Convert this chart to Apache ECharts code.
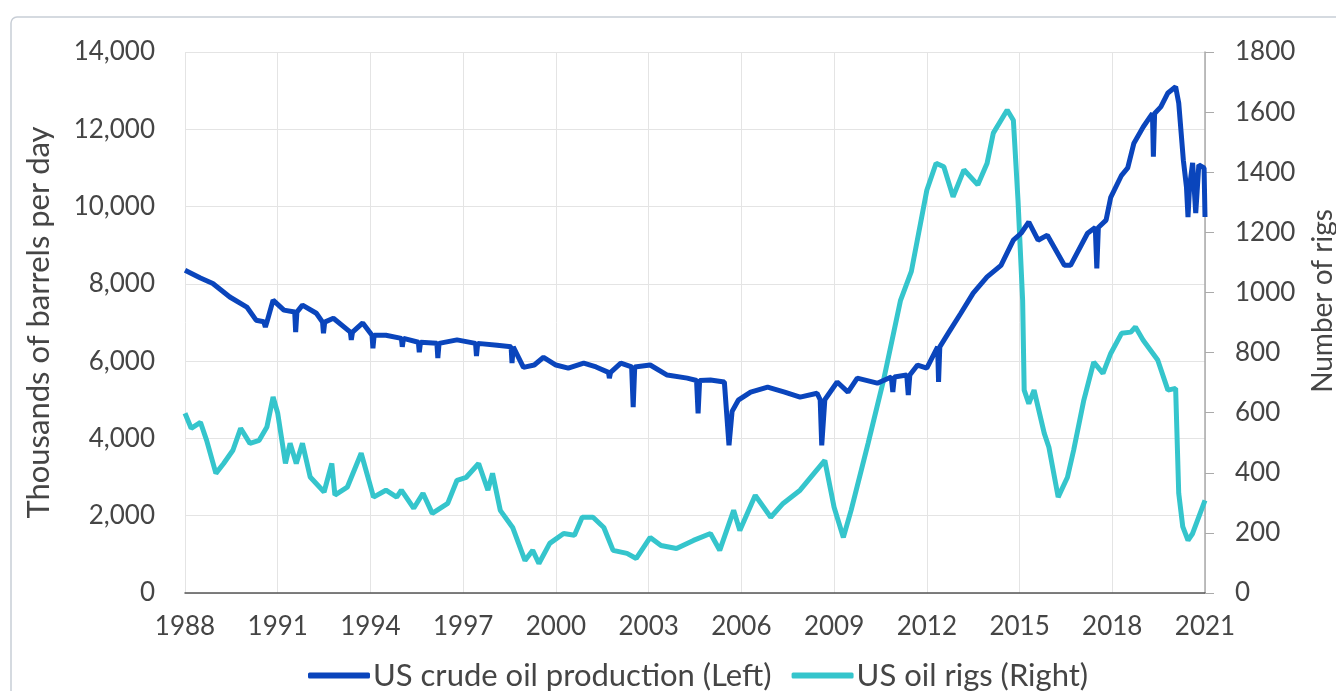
<!DOCTYPE html>
<html>
<head>
<meta charset="utf-8">
<script src="https://cdn.jsdelivr.net/npm/echarts@6/dist/echarts.min.js"></script>
<style>
html,body{margin:0;padding:0;background:#fff;}
#chart{width:1336px;height:691px;}
</style>
</head>
<body>
<div id="chart"></div>
<script>
// US crude oil production (thousands of barrels per day) — left axis
const prodYears = [1988.0,1988.5,1988.9,1989.45,1990.0,1990.3,1990.55,1990.6,1990.65,1990.85,1991.2,1991.55,1991.58,1991.62,1991.8,1992.25,1992.45,1992.48,1992.52,1992.8,1993.35,1993.38,1993.42,1993.75,1994.05,1994.08,1994.12,1994.5,1995.0,1995.03,1995.07,1995.55,1995.58,1995.62,1996.15,1996.18,1996.22,1996.8,1997.4,1997.43,1997.47,1998.1,1998.55,1998.58,1998.62,1998.95,1999.3,1999.6,2000.0,2000.4,2000.9,2001.3,2001.7,2001.73,2001.77,2002.1,2002.45,2002.5,2002.55,2003.05,2003.6,2004.25,2004.55,2004.6,2004.65,2005.0,2005.45,2005.6,2005.7,2005.9,2006.3,2006.85,2007.4,2007.9,2008.45,2008.55,2008.6,2008.7,2009.1,2009.45,2009.75,2010.4,2010.85,2010.9,2010.95,2011.35,2011.4,2011.45,2011.7,2012.0,2012.35,2012.38,2012.42,2012.7,2013.1,2013.5,2013.95,2014.4,2014.8,2015.05,2015.3,2015.6,2015.9,2016.45,2016.65,2017.2,2017.45,2017.5,2017.55,2017.8,2017.95,2018.3,2018.5,2018.7,2019.0,2019.3,2019.33,2019.37,2019.57,2019.8,2020.05,2020.15,2020.3,2020.4,2020.45,2020.5,2020.6,2020.7,2020.8,2020.97,2021.0];
const prodValues = [8350,8150,8010,7660,7400,7060,7020,6880,7010,7580,7320,7270,6750,7270,7450,7240,7010,6720,7010,7110,6750,6550,6750,6990,6670,6330,6670,6670,6590,6370,6590,6490,6230,6490,6460,6080,6460,6550,6460,6130,6460,6410,6370,5950,6370,5840,5900,6100,5900,5820,5950,5850,5710,5560,5710,5950,5850,4810,5850,5900,5640,5560,5500,4650,5500,5510,5460,3820,4700,4990,5200,5330,5200,5070,5170,5000,3820,5000,5460,5200,5560,5430,5590,5200,5590,5640,5120,5640,5900,5820,6370,5460,6370,6730,7240,7760,8180,8480,9130,9310,9600,9130,9260,8480,8480,9310,9460,8400,9460,9650,10240,10810,11000,11640,12060,12410,11290,12410,12580,12940,13100,12680,11200,10510,9730,10510,11130,9830,11080,11000,9730];

// US oil rigs (number of rigs) — right axis
const rigYears = [1988.0,1988.2,1988.5,1988.7,1989.0,1989.25,1989.55,1989.8,1990.1,1990.4,1990.65,1990.85,1991.0,1991.25,1991.4,1991.6,1991.8,1992.05,1992.5,1992.75,1992.85,1993.25,1993.7,1994.1,1994.5,1994.85,1995.0,1995.4,1995.7,1996.0,1996.5,1996.8,1997.1,1997.5,1997.8,1997.95,1998.2,1998.6,1999.0,1999.25,1999.45,1999.8,2000.25,2000.6,2000.85,2001.2,2001.55,2001.85,2002.3,2002.6,2003.05,2003.4,2003.9,2004.45,2005.0,2005.3,2005.75,2005.95,2006.45,2006.95,2007.35,2007.9,2008.35,2008.7,2009.0,2009.3,2009.55,2010.1,2010.6,2011.15,2011.5,2012.0,2012.3,2012.55,2012.85,2013.2,2013.65,2013.95,2014.15,2014.6,2014.8,2014.95,2015.1,2015.15,2015.3,2015.47,2015.8,2015.95,2016.25,2016.55,2016.75,2017.08,2017.4,2017.7,2017.95,2018.3,2018.6,2018.75,2019.0,2019.47,2019.8,2020.05,2020.15,2020.28,2020.45,2020.6,2021.0];
const rigValues = [598,548,568,508,398,431,475,548,498,508,552,652,598,431,498,431,498,386,336,431,326,352,465,319,342,319,342,282,332,265,298,375,385,431,342,398,275,218,108,142,98,165,198,192,252,252,218,142,132,115,185,158,148,175,198,142,275,208,325,252,298,342,398,441,285,185,275,498,708,974,1070,1340,1430,1418,1318,1408,1358,1430,1530,1607,1573,1307,974,675,630,675,531,485,319,385,475,642,768,731,797,864,868,885,841,775,675,681,332,221,175,198,308];

const xTicks = [1988,1991,1994,1997,2000,2003,2006,2009,2012,2015,2018,2021];
const seriesNames = ['US crude oil production (Left)','US oil rigs (Right)'];
const leftAxisName = 'Thousands of barrels per day';
const rightAxisName = 'Number of rigs';

const zip = (a,b) => a.map((v,i)=>[v,b[i]]);
const FONT = 'Lato, "Open Sans", sans-serif';
const BLUE = '#0a45bc';
const CYAN = '#35c5cc';
const TXT = '#454545';

const chart = echarts.init(document.getElementById('chart'), null, {renderer:'canvas'});
chart.setOption({
  animation:false,
  backgroundColor:'#ffffff',
  textStyle:{fontFamily:FONT},
  graphic:[{
    type:'rect', z:-10, silent:true,
    shape:{x:11,y:17,width:1400,height:800,r:6},
    style:{fill:'none',stroke:'#c8ced6',lineWidth:1.5}
  },{
    type:'text', silent:true, x:1323, y:301, rotation:Math.PI/2,
    style:{text:rightAxisName, fill:TXT, font:'28px ' + FONT, align:'center', verticalAlign:'middle'}
  }],
  grid:{left:185,right:131,top:52,bottom:98,containLabel:false,outerBoundsMode:'none'},
  legend:{
    top:655,left:303,
    data:seriesNames,
    icon:'roundRect',itemWidth:62,itemHeight:6,itemGap:20,
    textStyle:{fontFamily:FONT,fontSize:31,color:TXT,padding:[0,0,0,-2]}
  },
  xAxis:{
    type:'value',min:1988,max:2021,interval:3,
    axisLine:{show:true,lineStyle:{color:'#555',width:1.5}},
    axisTick:{show:false},
    axisLabel:{fontFamily:FONT,fontSize:26,color:TXT,margin:21,
      formatter:v=>xTicks.includes(v)?String(v):''},
    splitLine:{show:true,lineStyle:{color:'#e4e4e4',width:1}}
  },
  yAxis:[{
    type:'value',min:0,max:14000,interval:2000,position:'left',
    name:leftAxisName,nameLocation:'middle',nameGap:131,
    nameTextStyle:{fontFamily:FONT,fontSize:31,color:TXT},
    axisLine:{show:false},axisTick:{show:false},
    axisLabel:{fontFamily:FONT,fontSize:26,color:TXT,margin:30,
      formatter:v=>v.toLocaleString('en-US')},
    splitLine:{show:true,lineStyle:{color:'#e4e4e4',width:1}}
  },{
    type:'value',min:0,max:1800,interval:200,position:'right',
    axisLine:{show:true,lineStyle:{color:'#aaa',width:1.5}},
    axisTick:{show:true,length:9,lineStyle:{color:'#aaa'}},
    axisLabel:{fontFamily:FONT,fontSize:26,color:TXT,margin:30,
      formatter:v=>String(v)},
    splitLine:{show:false}
  }],
  series:[{
    name:seriesNames[0],type:'line',yAxisIndex:0,
    data:zip(prodYears,prodValues),showSymbol:false,
    lineStyle:{color:BLUE,width:5},itemStyle:{color:BLUE},z:3
  },{
    name:seriesNames[1],type:'line',yAxisIndex:1,
    data:zip(rigYears,rigValues),showSymbol:false,
    lineStyle:{color:CYAN,width:5},itemStyle:{color:CYAN},z:2
  }]
});
</script>
</body>
</html>
